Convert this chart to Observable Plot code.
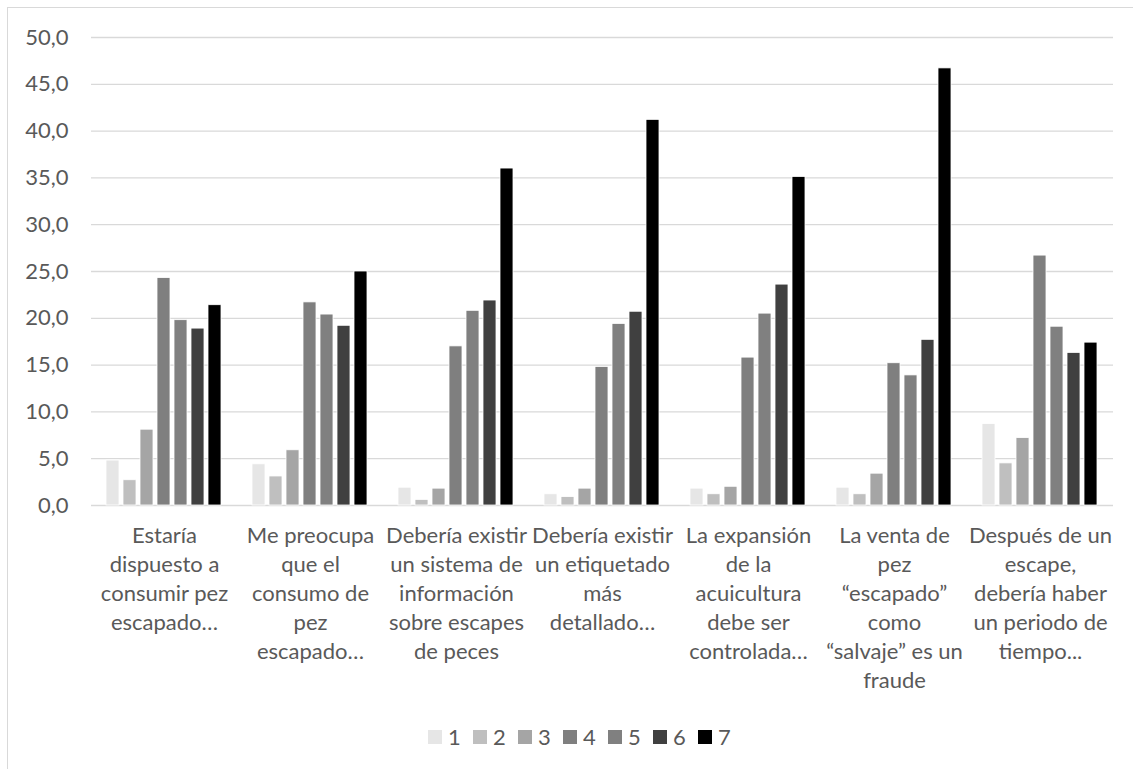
<!DOCTYPE html>
<html>
<head>
<meta charset="utf-8">
<script src="https://cdn.jsdelivr.net/npm/d3@7"></script>
<script src="https://cdn.jsdelivr.net/npm/@observablehq/plot@0.6"></script>
<style>
  html, body { margin: 0; padding: 0; background: #fff; overflow: hidden; }
  body { width: 1133px; height: 769px; position: relative; font-family: Lato, "Open Sans", sans-serif; }
  #frame { position: absolute; left: 7px; top: 7px; width: 1200px; height: 900px; border: 1.3px solid #d9d9d9; box-sizing: border-box; }
  #chart { position: absolute; left: 0; top: 0; }
  #legend { position: absolute; left: 428px; top: 723px; }
  .lg-swatches { font-family: Lato, sans-serif !important; font-size: 22px !important; color: #595959 !important; margin: 0 !important; }
  .lg-swatches-wrap { min-height: 0 !important; flex-wrap: nowrap !important; }
  .lg-swatches-wrap .lg-swatch { width: 45px; margin-right: 0 !important; display: inline-flex; align-items: center; }
  .lg-swatch > svg { margin-right: 6px !important; }
</style>
</head>
<body>
<div id="frame"></div>
<div id="chart"></div>
<div id="legend"></div>
<script>
// Survey statements (Likert items), wrapped as they appear under the axis
const statements = [
  "Estaría\ndispuesto a\nconsumir pez\nescapado…",
  "Me preocupa\nque el\nconsumo de\npez\nescapado…",
  "Debería existir\nun sistema de\ninformación\nsobre escapes\nde peces",
  "Debería existir\nun etiquetado\nmás\ndetallado…",
  "La expansión\nde la\nacuicultura\ndebe ser\ncontrolada…",
  "La venta de\npez\n“escapado”\ncomo\n“salvaje” es un\nfraude",
  "Después de un\nescape,\ndebería haber\nun periodo de\ntiempo..."
];

// Agreement levels 1–7 and their fills
const levels = ["1", "2", "3", "4", "5", "6", "7"];
const levelColors = ["#e6e6e6", "#bfbfbf", "#a5a5a5", "#7f7f7f", "#808080", "#404040", "#000000"];

// Percentage of answers per level, one value per statement
const level1 = [4.8, 4.4, 1.9, 1.2, 1.8, 1.9, 8.7];
const level2 = [2.7, 3.1, 0.6, 0.9, 1.2, 1.2, 4.5];
const level3 = [8.1, 5.9, 1.8, 1.8, 2.0, 3.4, 7.2];
const level4 = [24.3, 21.7, 17.0, 14.8, 15.8, 15.2, 26.7];
const level5 = [19.8, 20.4, 20.8, 19.4, 20.5, 13.9, 19.1];
const level6 = [18.9, 19.2, 21.9, 20.7, 23.6, 17.7, 16.3];
const level7 = [21.4, 25.0, 36.0, 41.2, 35.1, 46.7, 17.4];

// Y axis ticks
const yTicks = [0, 5, 10, 15, 20, 25, 30, 35, 40, 45, 50];

const series = [level1, level2, level3, level4, level5, level6, level7];
const rows = [];
statements.forEach((s, i) => {
  levels.forEach((lv, j) => rows.push({statement: s, level: lv, value: series[j][i]}));
});

const comma1 = (d) => d.toFixed(1).replace(".", ",");

const plot = Plot.plot({
  width: 1133,
  height: 700,
  marginLeft: 90,
  marginRight: 20,
  marginTop: 37,
  marginBottom: 195,
  style: {fontFamily: "Lato, 'Open Sans', sans-serif", fontSize: "22px", color: "#595959", background: "transparent", overflow: "visible"},
  fx: {domain: statements, padding: 0, label: null},
  x: {domain: levels, paddingInner: 0.23, paddingOuter: 0.84, axis: null},
  y: {domain: [0, 50], label: null},
  color: {type: "ordinal", domain: levels, range: levelColors},
  marks: [
    Plot.gridY(yTicks, {stroke: "#d9d9d9", strokeOpacity: 1, strokeWidth: 1.3}),
    Plot.barY(rows, {fx: "statement", x: "level", y: "value", fill: "level", stroke: "#ffffff", strokeWidth: 0.8}),
    Plot.axisY(yTicks, {tickSize: 0, tickPadding: 23, tickFormat: comma1, fontSize: 22, fill: "#595959", label: null}),
    Plot.axisFx({anchor: "bottom", tickSize: 0, tickPadding: 17, lineHeight: 1.32, fontSize: 22, fill: "#595959", label: null})
  ]
});
document.getElementById("chart").appendChild(plot);

const legend = Plot.legend({
  color: {type: "ordinal", domain: levels, range: levelColors},
  legend: "swatches",
  swatchSize: 14,
  className: "lg"
});
document.getElementById("legend").appendChild(legend);
</script>
</body>
</html>
